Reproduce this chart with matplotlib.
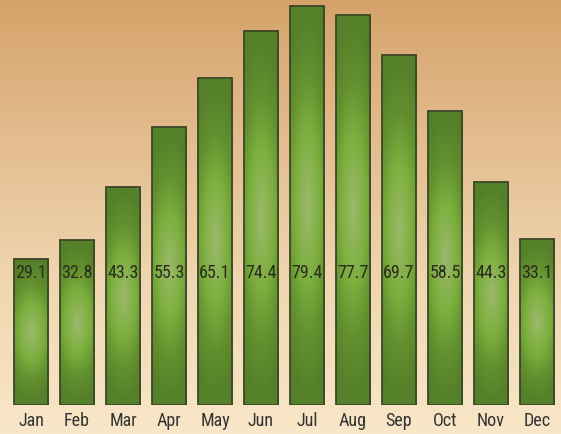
import numpy as np
import matplotlib
matplotlib.use("Agg")
import matplotlib.pyplot as plt
from matplotlib.colors import LinearSegmentedColormap
from matplotlib.patches import Rectangle
from matplotlib import font_manager

months = ["Jan", "Feb", "Mar", "Apr", "May", "Jun",
          "Jul", "Aug", "Sep", "Oct", "Nov", "Dec"]
values = [29.1, 32.8, 43.3, 55.3, 65.1, 74.4, 79.4, 77.7, 69.7, 58.5, 44.3, 33.1]

W, H, DPI = 561, 434, 100

# condensed font if there is one, else a narrow-ish sans
names = {f.name for f in font_manager.fontManager.ttflist}
fam, fsize = ["DejaVu Sans"], 10.5
for name, size in [("Roboto Condensed", 13), ("Open Sans Condensed", 13),
                   ("Liberation Sans Narrow", 13), ("Noto Sans Condensed", 13),
                   ("Roboto", 11.5)]:
    if name in names:
        fam, fsize = [name, "DejaVu Sans"], size
        break

fig = plt.figure(figsize=(W / DPI, H / DPI), dpi=DPI)

# background gradient (tan at top -> cream at bottom)
bg = fig.add_axes([0, 0, 1, 1])
bg_cmap = LinearSegmentedColormap.from_list(
    "bg", ["#d5a36a", "#e4bd90", "#f0d7b2", "#f8e7c8"])
bg.imshow(np.linspace(0, 1, 256)[:, None], aspect="auto", cmap=bg_cmap,
          extent=[0, 1, 0, 1], origin="upper")
bg.set_axis_off()

ax = fig.add_axes([8 / W, 29 / H, 552 / W, 405 / H])
ax.set_xlim(-0.5, len(months) - 0.5)
ax.set_ylim(0, 80.6)
ax.set_axis_off()
ax.patch.set_alpha(0)

bar_cmap = LinearSegmentedColormap.from_list(
    "bar", [(0.0, "#9cb96c"), (0.4, "#7caf3e"), (0.7, "#62902f"), (1.0, "#55802a")])
bw = 0.74
yy, xx = np.mgrid[-1:1:200j, -1:1:60j]
r = np.clip(np.sqrt((xx / 1.8) ** 2 + (yy * 1.05) ** 2), 0, 1)

for i, v in enumerate(values):
    x0 = i - bw / 2
    im = ax.imshow(r, cmap=bar_cmap, vmin=0, vmax=1, aspect="auto",
                   extent=[x0, x0 + bw, 0, v], origin="lower",
                   interpolation="bilinear", zorder=2)
    rect = Rectangle((x0, 0), bw, v, facecolor="none",
                     edgecolor="#3b4726", linewidth=1.3, zorder=3)
    ax.add_patch(rect)
    im.set_clip_path(rect)
    ax.text(i, 26.3, f"{v:.1f}", ha="center", va="center", fontsize=fsize,
            color="#2b2b1e", family=fam, zorder=4)
    fig.text((8 + 46 * i + 23) / W, 1 - 421 / H, months[i], ha="center",
             va="center", fontsize=fsize, color="#333333", family=fam)

fig.savefig("out.png", dpi=DPI)
